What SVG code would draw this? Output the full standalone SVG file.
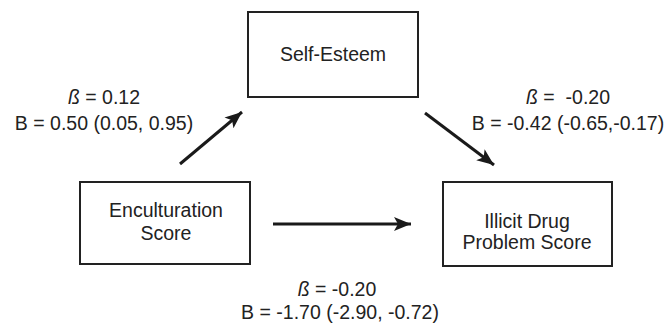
<svg xmlns="http://www.w3.org/2000/svg" width="665" height="323" viewBox="0 0 665 323">
<style>
.box{fill:#fff;stroke:#222;stroke-width:2}
.t{font-family:"Liberation Sans",Arial,sans-serif;font-size:19.5px;fill:#222;text-anchor:middle}
.b{font-style:italic}
.c{stroke:#1a1a1a;stroke-width:3;fill:none}
</style>
<defs>
<marker id="ah" markerUnits="userSpaceOnUse" markerWidth="20" markerHeight="16" refX="17" refY="8" orient="auto">
<path d="M0,1 L17,8 L0,15 L4,8 Z" fill="#1a1a1a"/>
</marker>
</defs>
<rect width="665" height="323" fill="#fff"/>
<g id="connectors">
<line class="c" x1="180" y1="164" x2="242" y2="112" marker-end="url(#ah)"/>
<line class="c" x1="425" y1="113" x2="494" y2="165" marker-end="url(#ah)"/>
<line class="c" x1="273" y1="224" x2="411" y2="224" marker-end="url(#ah)"/>
</g>
<g id="self-esteem">
<rect class="box" x="248" y="12" width="170" height="85"/>
<text class="t" x="333" y="61">Self-Esteem</text>
</g>
<g id="enculturation">
<rect class="box" x="80" y="182" width="170" height="82"/>
<text class="t" x="166" y="217">Enculturation</text>
<text class="t" x="166" y="240">Score</text>
</g>
<g id="illicit">
<rect class="box" x="443" y="182" width="169" height="84"/>
<text class="t" x="527" y="228">Illicit Drug</text>
<text class="t" x="527" y="249">Problem Score</text>
</g>
<g id="labels">
<text class="t" x="104" y="104"><tspan class="b">ß</tspan> = 0.12</text>
<text class="t" x="104" y="130">B = 0.50 (0.05, 0.95)</text>
<text class="t" x="568" y="104" xml:space="preserve"><tspan class="b">ß</tspan> =  -0.20</text>
<text class="t" x="568" y="130">B = -0.42 (-0.65,-0.17)</text>
<text class="t" x="337" y="296"><tspan class="b">ß</tspan> = -0.20</text>
<text class="t" x="340" y="319">B = -1.70 (-2.90, -0.72)</text>
</g>
</svg>
